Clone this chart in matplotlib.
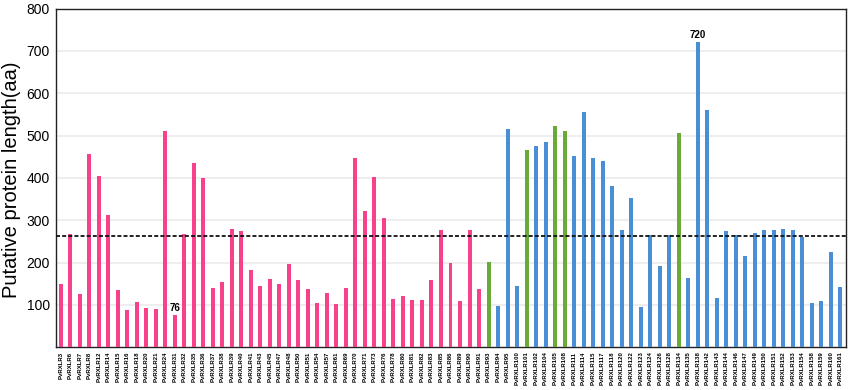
import matplotlib
matplotlib.use("Agg")
import matplotlib.pyplot as plt

plt.rcParams['font.family'] = ['Liberation Sans', 'DejaVu Sans']

ids = [3, 6, 7, 8, 12, 14, 15, 16, 18, 20, 21, 24, 31, 32, 35, 36, 37, 38, 39, 40,
       41, 43, 45, 47, 48, 50, 51, 54, 57, 61, 69, 70, 71, 73, 76, 78, 80, 81, 82, 83,
       85, 86, 89, 90, 91,
       93, 94, 95, 100, 101, 102, 104, 105, 108, 111, 114, 115, 117, 118, 120, 122, 123,
       124, 126, 128, 134, 135, 138, 142, 143, 144, 146, 147, 149, 150, 151, 152, 153,
       154, 158, 159, 160, 161]
labels = ["PvRXLR%d" % i for i in ids]

lengths = [149, 268, 127, 457, 404, 312, 136, 87, 107, 94, 91, 511, 76, 268, 435, 399,
           139, 154, 280, 275, 182, 145, 162, 149, 197, 158, 137, 104, 128, 102, 141, 447,
           322, 402, 306, 113, 121, 111, 111, 160, 276, 198, 109, 278, 137,
           202, 98, 516, 145, 466, 476, 484, 523, 510, 452, 555, 447, 439, 382, 277, 352,
           95, 265, 193, 266, 506, 163, 720, 561, 117, 274, 265, 216, 269, 276, 277, 279,
           276, 260, 104, 110, 224, 142]

groups = ["A"] * 45 + ["B", "C", "C", "C", "B", "C", "C", "B", "B"] + ["C"] * 11 + ["B"] + ["C"] * 17
group_colors = {"A": "#F7418A", "B": "#6AAB38", "C": "#4A8FD6"}
mean_line = 262
annotated = {"PvRXLR31": "76", "PvRXLR138": "720"}

fig = plt.figure(figsize=(8.51, 3.90), dpi=100)
ax = fig.add_axes([55.5 / 851, 1 - 347.3 / 390, 790 / 851, 338.7 / 390])

x = list(range(len(labels)))
colors = [group_colors[g] for g in groups]
ax.bar(x, lengths, width=0.42, color=colors, zorder=3)

ax.axhline(mean_line, color='#111111', linestyle=(0, (2.2, 1.2)), linewidth=1.3, zorder=4)

for i, lab in enumerate(labels):
    if lab in annotated:
        ax.text(i, lengths[i] + 6, annotated[lab], ha='center', va='bottom',
                fontsize=7, fontweight='bold', zorder=5)

ax.set_xlim(-0.55, len(labels) - 0.45)
ax.set_ylim(0, 800)
ax.set_yticks([100, 200, 300, 400, 500, 600, 700, 800])
ax.yaxis.grid(True, color='#EBEBEB', linewidth=1.2, zorder=0)
ax.set_xticks(x)
ax.set_xticklabels(labels, rotation=90, fontsize=4.3, fontweight='bold')
ax.tick_params(axis='x', length=0, pad=3)
ax.tick_params(axis='y', length=0, labelsize=10, pad=4)
for s in ax.spines.values():
    s.set_color('#222222')
    s.set_linewidth(1.0)

fig.text(12 / 851, 1 - 180 / 390, "Putative protein length(aa)", rotation=90,
         ha='center', va='center', fontsize=14.5)

fig.savefig("out.png", dpi=100)
